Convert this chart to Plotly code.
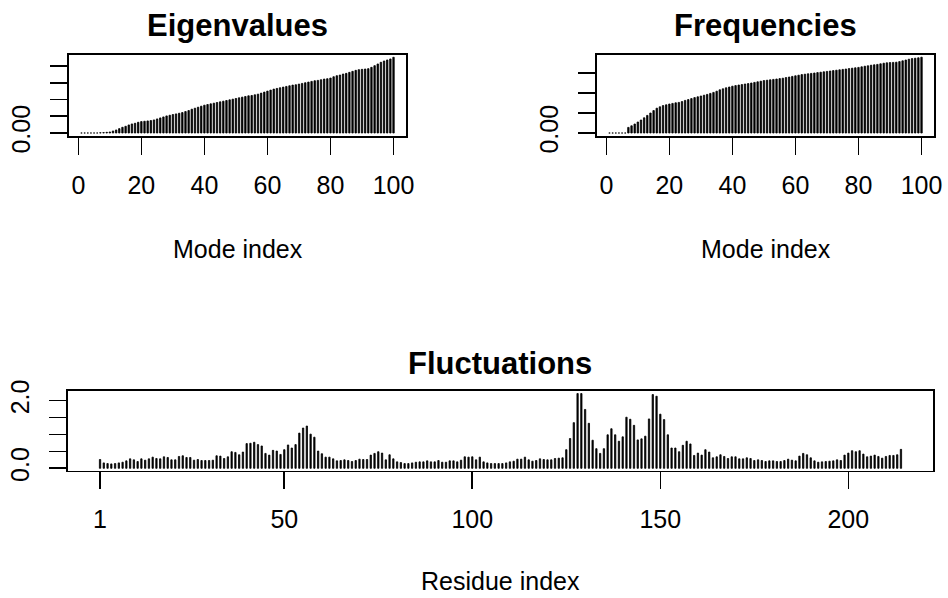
import plotly.graph_objects as go

mode_index = list(range(1, 101))
eigenvalues = [
    0, 0, 0, 0, 0, 0, 0.0008, 0.0012, 0.002, 0.003,
    0.006, 0.009, 0.013, 0.017, 0.020, 0.024, 0.027, 0.029, 0.032, 0.034,
    0.035, 0.036, 0.037, 0.039, 0.042, 0.045, 0.048, 0.051, 0.053, 0.055,
    0.057, 0.059, 0.061, 0.064, 0.067, 0.071, 0.074, 0.077, 0.080, 0.083,
    0.085, 0.087, 0.089, 0.091, 0.093, 0.095, 0.097, 0.099, 0.101, 0.103,
    0.105, 0.107, 0.109, 0.111, 0.112, 0.114, 0.116, 0.119, 0.122, 0.125,
    0.128, 0.131, 0.133, 0.135, 0.137, 0.139, 0.141, 0.143, 0.144, 0.146,
    0.148, 0.150, 0.152, 0.154, 0.156, 0.157, 0.159, 0.161, 0.162, 0.164,
    0.168, 0.171, 0.173, 0.176, 0.178, 0.181, 0.184, 0.187, 0.189, 0.190,
    0.191, 0.192, 0.196, 0.201, 0.206, 0.211, 0.215, 0.218, 0.221, 0.226,
]
frequencies = [
    0, 0, 0, 0, 0, 0, 0.0028, 0.0036, 0.0045, 0.0055,
    0.0065, 0.0076, 0.0088, 0.0100, 0.0112, 0.0124, 0.0131, 0.0137, 0.0141, 0.0145,
    0.0148, 0.0151, 0.0153, 0.0157, 0.0163, 0.0167, 0.0172, 0.0177, 0.0181, 0.0185,
    0.0189, 0.0193, 0.0198, 0.0203, 0.0209, 0.0216, 0.0221, 0.0226, 0.0230, 0.0234,
    0.0237, 0.0240, 0.0242, 0.0245, 0.0247, 0.0250, 0.0253, 0.0256, 0.0259, 0.0262,
    0.0264, 0.0266, 0.0268, 0.0270, 0.0272, 0.0274, 0.0277, 0.0280, 0.0283, 0.0286,
    0.0289, 0.0292, 0.0294, 0.0296, 0.0298, 0.0300, 0.0302, 0.0304, 0.0306, 0.0308,
    0.0310, 0.0312, 0.0314, 0.0316, 0.0318, 0.0320, 0.0322, 0.0324, 0.0326, 0.0328,
    0.0331, 0.0334, 0.0336, 0.0339, 0.0341, 0.0343, 0.0346, 0.0349, 0.0351, 0.0352,
    0.0353, 0.0354, 0.0357, 0.0361, 0.0365, 0.0369, 0.0372, 0.0374, 0.0376, 0.0379,
]
residue_index = list(range(1, 215))
fluctuations = [
    0.26, 0.16, 0.14, 0.13, 0.14, 0.16, 0.18, 0.22, 0.28, 0.25,
    0.20, 0.28, 0.24, 0.28, 0.33, 0.29, 0.28, 0.34, 0.32, 0.25,
    0.25, 0.35, 0.37, 0.32, 0.32, 0.24, 0.26, 0.23, 0.23, 0.23,
    0.24, 0.37, 0.36, 0.29, 0.34, 0.49, 0.47, 0.40, 0.48, 0.73,
    0.74, 0.77, 0.70, 0.66, 0.44, 0.39, 0.53, 0.51, 0.41, 0.55,
    0.69, 0.60, 0.70, 1.04, 1.19, 1.25, 1.01, 0.92, 0.51, 0.43,
    0.33, 0.33, 0.28, 0.22, 0.23, 0.25, 0.23, 0.20, 0.23, 0.27,
    0.26, 0.26, 0.39, 0.44, 0.49, 0.45, 0.25, 0.40, 0.28, 0.19,
    0.17, 0.14, 0.14, 0.16, 0.18, 0.19, 0.19, 0.22, 0.19, 0.19,
    0.23, 0.18, 0.18, 0.22, 0.22, 0.19, 0.24, 0.34, 0.33, 0.34,
    0.25, 0.33, 0.19, 0.16, 0.14, 0.14, 0.14, 0.14, 0.16, 0.19,
    0.21, 0.27, 0.27, 0.33, 0.25, 0.21, 0.23, 0.28, 0.26, 0.25,
    0.25, 0.29, 0.30, 0.31, 0.55, 0.88, 1.35, 2.21, 2.21, 1.74,
    1.33, 0.83, 0.58, 0.44, 0.58, 0.99, 1.17, 0.99, 0.80, 0.93,
    1.51, 1.45, 1.27, 0.84, 0.87, 0.95, 1.46, 2.18, 2.13, 1.60,
    1.44, 0.99, 0.60, 0.60, 0.49, 0.68, 0.80, 0.72, 0.38, 0.45,
    0.39, 0.55, 0.48, 0.31, 0.34, 0.40, 0.35, 0.29, 0.34, 0.34,
    0.28, 0.28, 0.31, 0.29, 0.23, 0.25, 0.23, 0.20, 0.22, 0.22,
    0.20, 0.20, 0.23, 0.27, 0.24, 0.22, 0.36, 0.44, 0.40, 0.31,
    0.22, 0.18, 0.19, 0.20, 0.21, 0.22, 0.25, 0.23, 0.39, 0.45,
    0.52, 0.49, 0.52, 0.42, 0.34, 0.36, 0.39, 0.35, 0.30, 0.35,
    0.38, 0.38, 0.40, 0.56,
]

mode_ticks = [0, 20, 40, 60, 80, 100]
eig_ticks = [0, 0.05, 0.10, 0.15, 0.20]
eig_ticktext = ["0.00", "", "", "", ""]
freq_ticks = [0, 0.01, 0.02, 0.03]
freq_ticktext = ["0.00", "", "", ""]
res_ticks = [1, 50, 100, 150, 200]
fluc_ticks = [0, 0.5, 1.0, 1.5, 2.0]
fluc_ticktext = ["0.0", "", "", "", "2.0"]

FONT = "Liberation Sans, Arial, Helvetica, sans-serif"
W, H = 948, 598

bar_marker = dict(color="black", line=dict(width=0.8, color="black"))
fig = go.Figure()
fig.add_trace(go.Bar(x=mode_index, y=eigenvalues, width=0.45, marker=bar_marker,
                     xaxis="x", yaxis="y", showlegend=False))
fig.add_trace(go.Bar(x=mode_index, y=frequencies, width=0.45, marker=bar_marker,
                     xaxis="x2", yaxis="y2", showlegend=False))
fig.add_trace(go.Bar(x=residue_index, y=fluctuations, width=0.35, marker=bar_marker,
                     xaxis="x3", yaxis="y3", showlegend=False))

LW = 1.6
common = dict(showline=True, linecolor="black", linewidth=LW, mirror=True, ticks="outside",
              ticklen=17, tickwidth=LW, tickcolor="black", showgrid=False, zeroline=False,
              automargin=False, tickfont=dict(family=FONT, size=25, color="black"))

def px_x(p):
    return p / W

def px_y(p):
    return 1 - p / H

XS, YS = 9, 10
fig.update_layout(
    width=W, height=H, margin=dict(l=0, r=0, t=0, b=0, autoexpand=False),
    paper_bgcolor="white", plot_bgcolor="white", bargap=0,
    xaxis=dict(domain=[px_x(69), px_x(406)], range=[-2.96, 103.96], tickvals=mode_ticks,
               anchor="y", ticklabelstandoff=XS, **common),
    yaxis=dict(domain=[px_y(136), px_y(54.5)], range=[-0.009, 0.2343], tickvals=eig_ticks,
               ticktext=eig_ticktext, tickangle=-90, anchor="x", ticklabelstandoff=YS, **common),
    xaxis2=dict(domain=[px_x(597), px_x(934)], range=[-2.96, 103.96], tickvals=mode_ticks,
                anchor="y2", ticklabelstandoff=XS, **common),
    yaxis2=dict(domain=[px_y(136), px_y(54.5)], range=[-0.0015, 0.03925], tickvals=freq_ticks,
                ticktext=freq_ticktext, tickangle=-90, anchor="x2", ticklabelstandoff=YS, **common),
    xaxis3=dict(domain=[px_x(68), px_x(933)], range=[-7.52, 222.52], tickvals=res_ticks,
                anchor="y3", ticklabelstandoff=XS, **common),
    yaxis3=dict(domain=[px_y(470.7), px_y(390.7)], range=[-0.071, 2.294], tickvals=fluc_ticks,
                ticktext=fluc_ticktext, tickangle=-90, anchor="x3", ticklabelstandoff=YS, **common),
)

def label(text, x, y, size, bold=False):
    fig.add_annotation(text=f"<b>{text}</b>" if bold else text, x=px_x(x), y=px_y(y),
                       xref="paper", yref="paper", xanchor="center", yanchor="middle",
                       showarrow=False, font=dict(family=FONT, size=size, color="black"))

label("Eigenvalues", 237.5, 26, 31, bold=True)
label("Frequencies", 765.5, 26, 31, bold=True)
label("Fluctuations", 500.5, 363, 31, bold=True)
label("Mode index", 237.5, 249, 25)
label("Mode index", 765.5, 249, 25)
label("Residue index", 500.5, 581, 25)

fig.write_html("out.html", config={"displayModeBar": False, "staticPlot": True},
               post_script="document.body.style.margin='0';document.body.style.overflow='hidden';")
